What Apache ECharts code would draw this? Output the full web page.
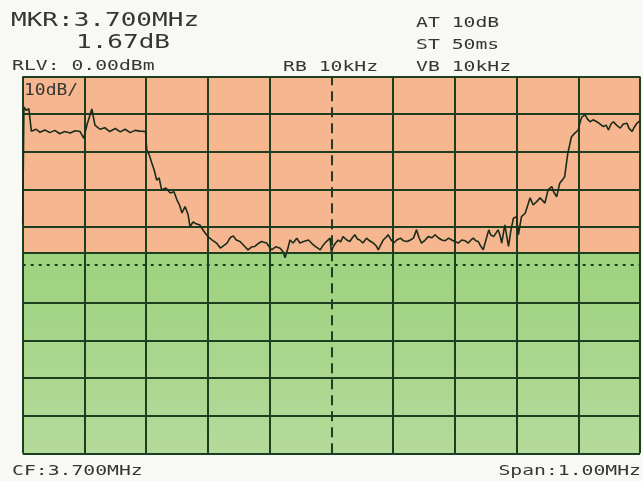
<!DOCTYPE html>
<html>
<head>
<meta charset="utf-8">
<script src="https://cdn.jsdelivr.net/npm/echarts@6/dist/echarts.min.js"></script>
<style>
  html, body { margin: 0; padding: 0; background: #f8f8f5; }
  #chart { width: 643px; height: 481px; }
</style>
</head>
<body>
<div id="chart"></div>
<script>
// Sweep: 3.2 .. 4.2 MHz (CF 3.700 MHz, span 1.00 MHz), reference level 0 dBm, 10 dB/div
const freqKHz = [
  3200, 3202, 3206, 3210, 3214, 3222, 3228, 3236, 3244, 3252, 3260, 3268, 3277, 3285, 3293,
  3299, 3304, 3312, 3317, 3325, 3333, 3341, 3350, 3358, 3366, 3374, 3382, 3390, 3399,
  3401, 3405, 3409, 3413, 3417, 3421, 3425, 3432, 3439, 3445, 3450, 3454, 3458, 3463, 3468,
  3471, 3476, 3481, 3487, 3494, 3500, 3507, 3514, 3520, 3524, 3531, 3536, 3541, 3546, 3552,
  3559, 3565, 3571, 3576, 3581, 3587, 3595, 3603, 3610, 3617, 3622, 3625, 3629, 3633, 3638,
  3644, 3649, 3655, 3663, 3669, 3674, 3682, 3687, 3692, 3698, 3700, 3703, 3707, 3711, 3715,
  3719, 3725, 3730, 3734, 3738, 3742, 3746, 3751, 3757, 3762, 3768, 3773, 3776, 3780, 3784,
  3789, 3792, 3797, 3801, 3806, 3812, 3817, 3823, 3828, 3833, 3838, 3842, 3846, 3852, 3857,
  3863, 3868, 3873, 3879, 3884, 3890, 3895, 3900, 3906, 3911, 3917, 3922, 3926, 3930, 3934,
  3938, 3942, 3946, 3949, 3955, 3958, 3963, 3966, 3970, 3973, 3976, 3981, 3987, 3991, 3995,
  4000, 4003, 4006, 4008, 4014, 4016, 4022, 4027, 4030, 4035, 4038, 4046, 4051, 4057, 4060,
  4065, 4070, 4074, 4078, 4083, 4086, 4089, 4094, 4100, 4103, 4106, 4111, 4115, 4119, 4124,
  4130, 4135, 4141, 4145, 4149, 4153, 4157, 4162, 4168, 4173, 4179, 4182, 4187, 4191, 4195,
  4200
];
const levelDb = [
  -39, -8.1, -9.0, -8.5, -14.5, -14.0, -14.8, -14.2, -14.9, -14.3, -15.2, -14.6, -15.0, -14.4, -14.6,
  -16.4, -12.9, -8.6, -12.9, -14.0, -13.6, -14.6, -13.8, -14.7, -14.0, -14.9, -14.3, -14.5, -14.6,
  -19.5, -20.8, -22.9, -24.8, -27.5, -26.9, -30.1, -29.6, -30.9, -30.6, -32.8, -34.1, -36.2, -34.5, -36.7,
  -39.8, -38.6, -39.1, -39.4, -41.2, -42.5, -43.4, -44.2, -45.5, -45.1, -44.2, -42.8, -42.3, -43.4, -43.8,
  -45.0, -46.0, -45.2, -45.1, -44.4, -43.8, -44.2, -46.0, -45.2, -45.6, -46.6, -48.1, -46.0, -43.4, -44.2,
  -42.9, -44.2, -43.8, -43.4, -44.4, -45.1, -46.0, -44.7, -43.8, -42.9, -46.6, -45.1, -44.2, -43.4, -43.9,
  -42.5, -43.4, -43.8, -42.8, -42.0, -43.1, -43.4, -44.2, -42.9, -43.6, -44.2, -45.0, -46.0, -44.7, -43.4,
  -42.6, -42.0, -43.4, -44.2, -43.4, -42.9, -43.6, -43.8, -43.4, -42.9, -40.7, -42.8, -44.2, -43.4, -42.5,
  -42.8, -42.0, -42.8, -43.4, -43.6, -42.9, -43.4, -43.8, -44.2, -43.4, -43.6, -44.2, -43.4, -42.9, -43.6,
  -43.8, -45.0, -46.0, -45.5, -40.7, -42.0, -42.5, -42.8, -40.7, -42.0, -44.2, -39.4, -45.1, -40.7, -37.6,
  -37.2, -42.0, -41.6, -37.2, -36.3, -35.9, -32.2, -34.1, -34.5, -32.8, -32.2, -33.6, -30.1, -29.2, -30.6,
  -31.9, -28.3, -27.5, -26.6, -20.4, -18.2, -16.0, -15.1, -14.2, -12.1, -10.7, -10.2, -11.3, -12.0, -11.5,
  -12.0, -12.6, -13.3, -12.9, -14.2, -12.6, -12.0, -12.9, -13.7, -12.6, -12.4, -13.7, -14.6, -13.4, -12.4,
  -11.8
];

// Axis ranges and reference lines
const freqRange = [3200, 4200];     // kHz
const freqStep = 100;               // kHz per division
const levelRange = [-100, 0];       // dBm
const levelStep = 10;               // dB per division
const centerKHz = 3700;
const displayLineDb = -50;
const bandEdgeDb = -46.9;

// Readout texts
const markerText = ['MKR:3.700MHz', '1.67dB'];
const refText = 'RLV: 0.00dBm';
const rbwText = 'RB 10kHz';
const settingsText = ['AT 10dB', 'ST 50ms', 'VB 10kHz'];
const scaleText = '10dB/';
const cfText = 'CF:3.700MHz';
const spanText = 'Span:1.00MHz';

const GRID_COLOR = '#1d3f20';
const TEXT_COLOR = '#333833';
const FONT = '"DejaVu Sans Mono", "Liberation Mono", monospace';

// Solid split lines everywhere except the centre column and the -50 dB row,
// which are drawn as dashed / dotted mark lines instead.
function splitColors(min, step, count, skipValue) {
  const arr = [];
  for (let i = 0; i <= count; i++) {
    arr.push(min + i * step === skipValue ? 'rgba(0,0,0,0)' : GRID_COLOR);
  }
  return arr;
}
const xCount = (freqRange[1] - freqRange[0]) / freqStep;
const yCount = (levelRange[1] - levelRange[0]) / levelStep;

function label(text, x, y, size, sx, align) {
  return {
    type: 'text',
    x: x, y: y,
    scaleX: sx,
    z: 10,
    style: {
      text: text,
      fontFamily: FONT,
      fontSize: size,
      fill: TEXT_COLOR,
      textAlign: align || 'left',
      textVerticalAlign: 'middle'
    }
  };
}

const chart = echarts.init(document.getElementById('chart'), null, { renderer: 'canvas' });
chart.setOption({
  animation: false,
  backgroundColor: '#f8f8f5',
  grid: { left: 22.7, top: 76.5, width: 617.3, height: 376.8, containLabel: false },
  xAxis: {
    type: 'value',
    min: freqRange[0], max: freqRange[1], interval: freqStep,
    z: 2,
    axisLine: { show: false }, axisTick: { show: false }, axisLabel: { show: false },
    splitLine: {
      show: true,
      lineStyle: { color: splitColors(freqRange[0], freqStep, xCount, centerKHz), width: 2 }
    }
  },
  yAxis: {
    type: 'value',
    min: levelRange[0], max: levelRange[1], interval: levelStep,
    z: 2,
    axisLine: { show: false }, axisTick: { show: false }, axisLabel: { show: false },
    splitLine: {
      show: true,
      lineStyle: { color: splitColors(levelRange[0], levelStep, yCount, displayLineDb), width: 2 }
    }
  },
  graphic: [
    label(markerText[0], 11, 21, 19, 1.37),
    label(markerText[1], 76, 43.5, 19, 1.37),
    label(refText, 12, 66, 14, 1.41),
    label(rbwText, 283, 67, 14, 1.41),
    label(settingsText[0], 416, 23, 14, 1.41),
    label(settingsText[1], 416, 45.5, 14, 1.41),
    label(settingsText[2], 416, 67, 14, 1.41),
    label(scaleText, 24, 91, 15, 1.2),
    label(cfText, 12, 471, 14, 1.41),
    label(spanText, 641, 471, 14, 1.41, 'right')
  ],
  series: [{
    type: 'line',
    z: 3,
    data: freqKHz.map((f, i) => [f, levelDb[i]]),
    showSymbol: false,
    silent: true,
    lineStyle: { color: '#1a2c1a', width: 1.6 },
    markArea: {
      silent: true,
      data: [
        [{ yAxis: levelRange[1], itemStyle: { color: '#f5b690' } }, { yAxis: bandEdgeDb }],
        [{
          yAxis: bandEdgeDb,
          itemStyle: {
            color: new echarts.graphic.LinearGradient(0, 0, 0, 1, [
              { offset: 0, color: '#9dd27e' },
              { offset: 1, color: '#b4da9a' }
            ])
          }
        }, { yAxis: levelRange[0] }]
      ]
    },
    markLine: {
      silent: true,
      symbol: 'none',
      label: { show: false },
      data: [
        { xAxis: centerKHz, lineStyle: { color: GRID_COLOR, width: 2, type: [10, 6] } },
        { yAxis: displayLineDb, lineStyle: { color: GRID_COLOR, width: 2, type: [3, 5] } },
        { yAxis: bandEdgeDb, lineStyle: { color: GRID_COLOR, width: 2, type: 'solid' } }
      ]
    }
  }]
});
</script>
</body>
</html>
